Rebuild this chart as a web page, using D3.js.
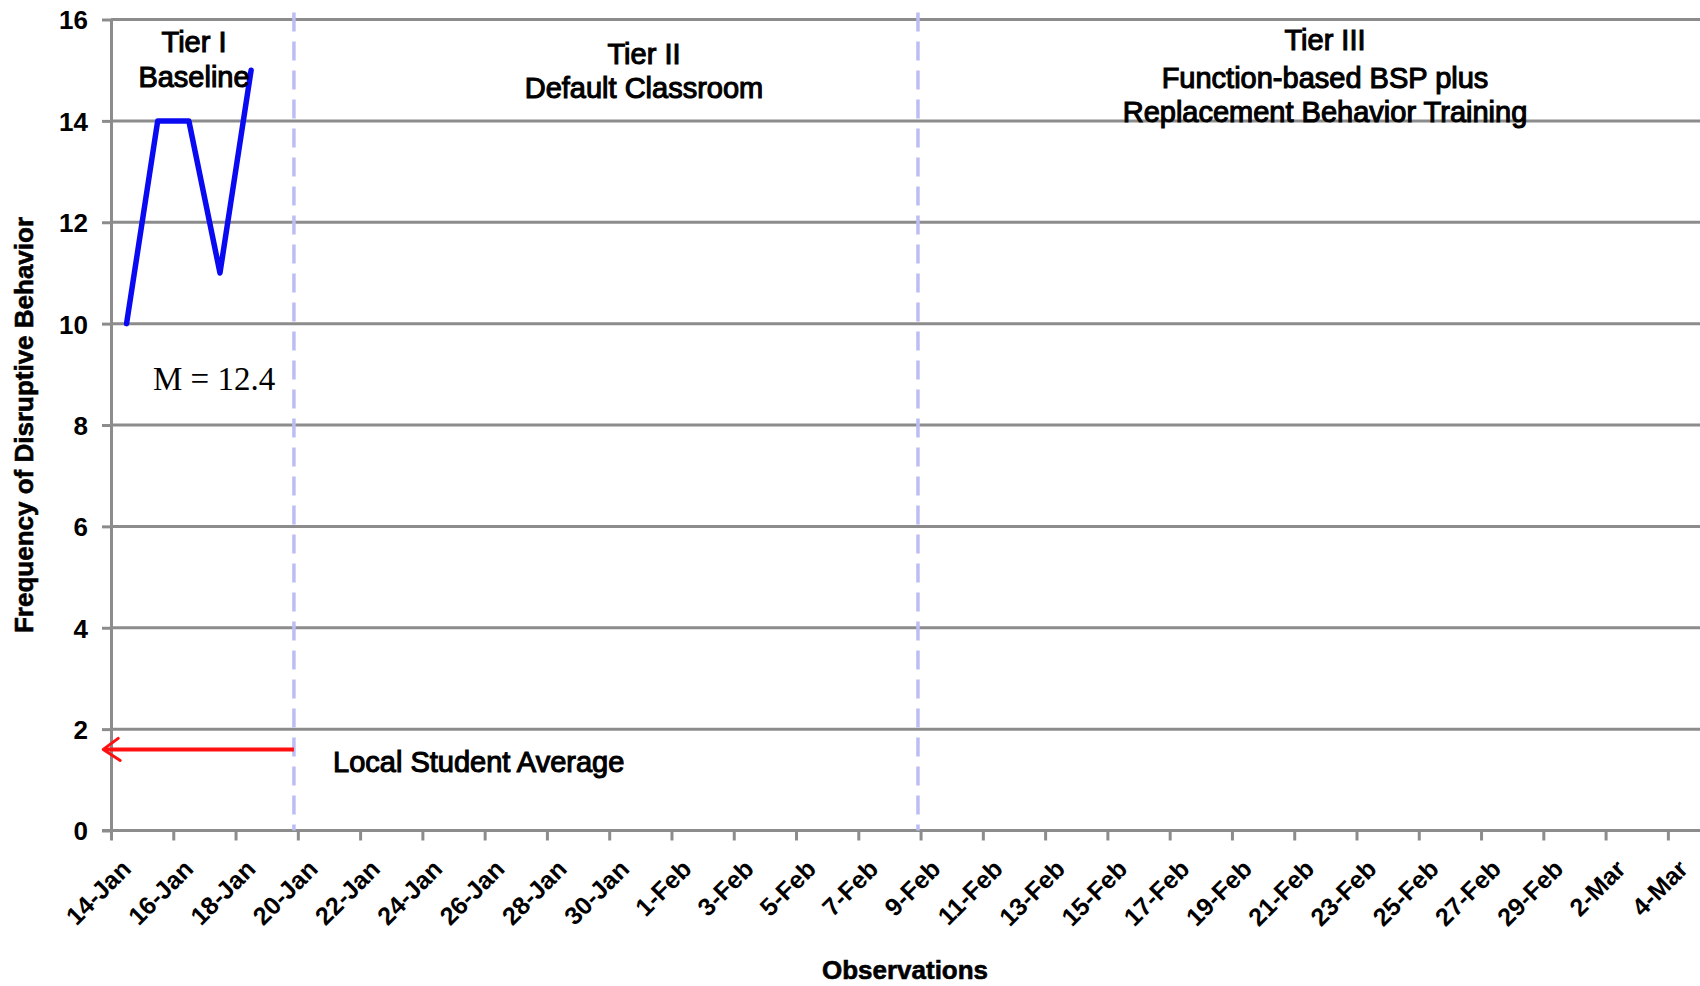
<!DOCTYPE html>
<html>
<head>
<meta charset="utf-8">
<title>Frequency of Disruptive Behavior</title>
<script src="https://cdn.jsdelivr.net/npm/d3@7"></script>
<style>
  html, body { margin: 0; padding: 0; background: #ffffff; }
  svg { display: block; }
  text { fill: #000; }
</style>
</head>
<body>
<svg id="chart" width="1700" height="986"></svg>
<script>
// ---- data -------------------------------------------------------------
const observationDates = ["2008-01-14", "2008-01-15", "2008-01-16", "2008-01-17", "2008-01-18"];
const disruptiveCounts = [10, 14, 14, 11, 15];

const tickDates = [
  "2008-01-14", "2008-01-16", "2008-01-18", "2008-01-20", "2008-01-22", "2008-01-24",
  "2008-01-26", "2008-01-28", "2008-01-30", "2008-02-01", "2008-02-03", "2008-02-05",
  "2008-02-07", "2008-02-09", "2008-02-11", "2008-02-13", "2008-02-15", "2008-02-17",
  "2008-02-19", "2008-02-21", "2008-02-23", "2008-02-25", "2008-02-27", "2008-02-29",
  "2008-03-02", "2008-03-04"
];
const yTicks = [0, 2, 4, 6, 8, 10, 12, 14, 16];

const phaseChanges = ["2008-01-19T21:00", "2008-02-08T22:00"];
const phaseTitles = [
  ["Tier I", "Baseline"],
  ["Tier II", "Default Classroom"],
  ["Tier III", "Function-based BSP plus", "Replacement Behavior Training"]
];
const baselineMeanLabel = "M = 12.4";
const localStudentAverage = 1.6;
const localAverageLabel = "Local Student Average";

const xAxisTitle = "Observations";
const yAxisTitle = "Frequency of Disruptive Behavior";

// ---- layout -----------------------------------------------------------
const W = 1700, H = 986;
const plot = { left: 111, right: 1699, top: 19.5, bottom: 830.5 };
const gridColor = "#8c8c8c";
const sans = "'Liberation Sans', Arial, sans-serif";
const serif = "'Liberation Serif', 'Times New Roman', serif";

const parseDay = d3.timeParse("%Y-%m-%d");
const parseStamp = d3.timeParse("%Y-%m-%dT%H:%M");

const x = d3.scaleTime()
  .domain([parseDay("2008-01-14"), parseDay("2008-03-05")])
  .range([plot.left, plot.right]);
const y = d3.scaleLinear().domain([0, 16]).range([plot.bottom, plot.top]);

const svg = d3.select("#chart");

// horizontal gridlines
svg.append("g")
  .selectAll("line")
  .data(yTicks.filter(v => v > 0))
  .join("line")
  .attr("x1", plot.left)
  .attr("x2", W)
  .attr("y1", d => y(d))
  .attr("y2", d => y(d))
  .attr("stroke", gridColor)
  .attr("stroke-width", 3);

// y axis
const yAxis = svg.append("g")
  .attr("transform", `translate(${plot.left},0)`)
  .call(d3.axisLeft(y).tickValues(yTicks).tickSize(9).tickSizeOuter(0).tickPadding(14));
yAxis.select(".domain").attr("stroke", gridColor).attr("stroke-width", 3);
yAxis.selectAll(".tick line").attr("stroke", gridColor).attr("stroke-width", 3);
yAxis.selectAll(".tick text")
  .style("font-family", sans)
  .style("font-size", "26px")
  .style("font-weight", "bold")
  .attr("fill", "#000")
  .attr("dy", "0.36em");

// x axis (date axis, tick every second day)
const xTickValues = tickDates.map(parseDay);
const xAxis = svg.append("g")
  .attr("transform", `translate(0,${plot.bottom})`)
  .call(d3.axisBottom(x)
    .tickValues(xTickValues)
    .tickSize(10)
    .tickSizeOuter(0)
    .tickFormat(d3.timeFormat("%-d-%b")));
xAxis.select(".domain").attr("stroke", gridColor).attr("stroke-width", 3)
  .attr("d", `M${plot.left - 9},0H${W}`);
xAxis.selectAll(".tick line").attr("stroke", gridColor).attr("stroke-width", 3);
xAxis.selectAll(".tick text")
  .style("font-family", sans)
  .style("font-size", "25px")
  .style("font-weight", "bold")
  .attr("fill", "#000")
  .attr("text-anchor", "end")
  .attr("y", 0)
  .attr("dy", 0)
  .attr("transform", "translate(21,40) rotate(-45)");

// phase-change lines
svg.append("g")
  .selectAll("line")
  .data(phaseChanges.map(parseStamp))
  .join("line")
  .attr("x1", d => x(d))
  .attr("x2", d => x(d))
  .attr("y1", plot.top - 7)
  .attr("y2", plot.bottom)
  .attr("stroke", "#bdbdf5")
  .attr("stroke-width", 3.5)
  .attr("stroke-dasharray", "19,10");

// baseline series (each day plotted in the middle of its slot)
const series = observationDates.map((d, i) => ({
  date: d3.timeHour.offset(parseDay(d), 12),
  value: disruptiveCounts[i]
}));
svg.append("path")
  .datum(series)
  .attr("fill", "none")
  .attr("stroke", "#0a0af2")
  .attr("stroke-width", 5.5)
  .attr("stroke-linejoin", "round")
  .attr("stroke-linecap", "round")
  .attr("d", d3.line().x(d => x(d.date)).y(d => y(d.value)));

// local student average arrow pointing at the y axis
const arrowY = y(localStudentAverage);
const arrowStart = x(parseStamp(phaseChanges[0]));
const arrowTip = x(d3.timeHour.offset(x.domain()[0], -6));
svg.append("line")
  .attr("x1", arrowStart).attr("x2", arrowTip + 2)
  .attr("y1", arrowY).attr("y2", arrowY)
  .attr("stroke", "#ff1010")
  .attr("stroke-width", 4);
svg.append("path")
  .attr("d", `M${arrowTip + 15},${arrowY - 11}L${arrowTip},${arrowY}L${arrowTip + 17},${arrowY + 11}`)
  .attr("fill", "none")
  .attr("stroke", "#ff1010")
  .attr("stroke-width", 3)
  .attr("stroke-linecap", "round")
  .attr("stroke-linejoin", "round");

// annotation text helper: slightly heavy sans labels
function label(xPos, yPos, str, anchor) {
  return svg.append("text")
    .attr("x", xPos)
    .attr("y", yPos)
    .attr("text-anchor", anchor || "start")
    .style("font-family", sans)
    .style("font-size", "29px")
    .attr("stroke", "#000")
    .attr("stroke-width", 1.1)
    .text(str);
}

label(333, 772, localAverageLabel);

// phase titles
const titleLayout = [
  { cx: 194, baselines: [52, 87] },
  { cx: 644, baselines: [64, 98] },
  { cx: 1325, baselines: [50, 88, 122] }
];
phaseTitles.forEach((lines, i) => {
  lines.forEach((line, j) => {
    label(titleLayout[i].cx, titleLayout[i].baselines[j], line, "middle");
  });
});

// baseline mean
svg.append("text")
  .attr("x", 153)
  .attr("y", 390)
  .style("font-family", serif)
  .style("font-size", "33px")
  .text(baselineMeanLabel);

// axis titles
svg.append("text")
  .attr("x", 905)
  .attr("y", 979)
  .attr("text-anchor", "middle")
  .style("font-family", sans)
  .style("font-size", "26px")
  .style("font-weight", "bold")
  .attr("stroke", "#000")
  .attr("stroke-width", 0.6)
  .text(xAxisTitle);

svg.append("text")
  .attr("transform", "translate(33,425) rotate(-90)")
  .attr("text-anchor", "middle")
  .style("font-family", sans)
  .style("font-size", "26px")
  .style("font-weight", "bold")
  .attr("stroke", "#000")
  .attr("stroke-width", 0.6)
  .text(yAxisTitle);
</script>
</body>
</html>
